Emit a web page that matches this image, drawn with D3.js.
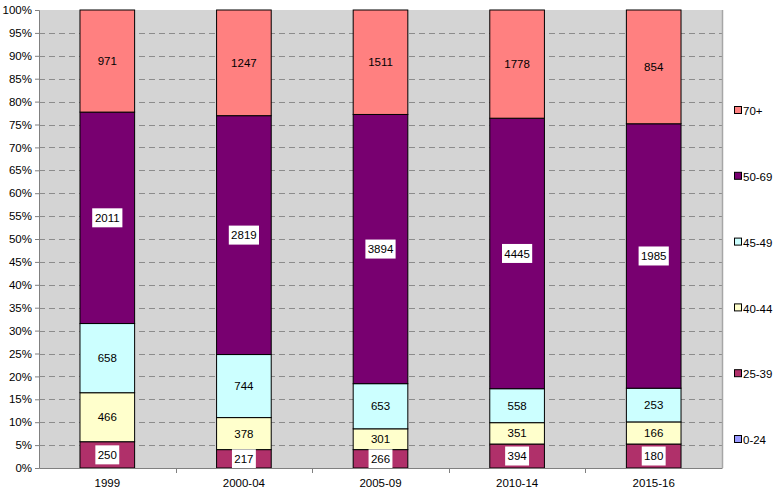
<!DOCTYPE html>
<html><head><meta charset="utf-8">
<script src="https://cdn.jsdelivr.net/npm/d3@7"></script>
<style>body{margin:0;background:#fff;}svg{display:block;font-family:"Liberation Sans",Arial,sans-serif;}</style>
</head><body><svg id="c" width="778" height="496"></svg>
<script>
const categories = ["1999","2000-04","2005-09","2010-14","2015-16"];
const seriesNames = ["0-24","25-39","40-44","45-49","50-69","70+"];
const s0_24  = [0,0,0,0,0];
const s25_39 = [250,217,266,394,180];
const s40_44 = [466,378,301,351,166];
const s45_49 = [658,744,653,558,253];
const s50_69 = [2011,2819,3894,4445,1985];
const s70p   = [971,1247,1511,1778,854];
const yTicks = [0,5,10,15,20,25,30,35,40,45,50,55,60,65,70,75,80,85,90,95,100];
const colors = ["#9999FF","#B0306A","#FFFFCC","#CCFFFF","#780070","#FF8080"];
const boxed  = [true,true,false,false,true,false];

const series = [s0_24,s25_39,s40_44,s45_49,s50_69,s70p];
const rows = categories.map((c,i)=>{const r={cat:c}; seriesNames.forEach((n,j)=>r[n]=series[j][i]); return r;});
const stacked = d3.stack().keys(seriesNames).offset(d3.stackOffsetExpand)(rows);

const svg = d3.select("#c");
const L=39,R=722,T=10,B=468;
const FS="11.5px";
const x = d3.scaleBand().domain(categories).range([L,R]).paddingInner(0.6).paddingOuter(0.3);
const xb = d3.scaleBand().domain(categories).range([L,R]);
const y = d3.scaleLinear().domain([0,100]).range([B,T]);

svg.append("rect").attr("x",L).attr("y",T).attr("width",R-L).attr("height",B-T).attr("fill","#D4D4D4");
// grid
svg.append("g").selectAll("line").data(yTicks.filter(t=>t>0&&t<100)).join("line")
  .attr("x1",L).attr("x2",R).attr("y1",d=>Math.round(y(d))+0.5).attr("y2",d=>Math.round(y(d))+0.5)
  .attr("stroke","#8C8C8C").attr("stroke-dasharray","6,4");
// plot border
svg.append("line").attr("x1",R+0.5).attr("x2",R+0.5).attr("y1",T).attr("y2",B).attr("stroke","#A6A6A6").attr("stroke-width",1.5);

// bars
const g = svg.append("g");
stacked.forEach((s,j)=>{
  g.selectAll(null).data(s).join("rect")
   .attr("x",d=>x(d.data.cat)).attr("width",x.bandwidth())
   .attr("y",d=>y(d[1]*100)).attr("height",d=>y(d[0]*100)-y(d[1]*100))
   .attr("fill",colors[j]).attr("stroke",d=>(d[1]-d[0])>0?"#000":"none").attr("stroke-width",1);
});
// labels
stacked.forEach((s,j)=>{
  s.forEach(d=>{
    if(d[1]-d[0]<=0) return;
    const cx = x(d.data.cat)+x.bandwidth()/2;
    const cy = (y(d[0]*100)+y(d[1]*100))/2;
    const val = d.data[seriesNames[j]];
    if(boxed[j]){
      const w = String(val).length*6.3+5;
      g.append("rect").attr("x",cx-w/2).attr("y",cy-9.5).attr("width",w).attr("height",19).attr("fill","#fff");
    }
    g.append("text").attr("x",cx).attr("y",cy).attr("dy","0.36em").attr("text-anchor","middle")
     .attr("font-size",FS).attr("fill","#000").text(val);
  });
});

// axes
const ya = svg.append("g").attr("transform",`translate(${L},0)`)
  .call(d3.axisLeft(y).tickValues(yTicks).tickFormat(d=>d+"%").tickSize(4).tickPadding(3));
ya.select(".domain").attr("stroke","#808080");
ya.selectAll(".tick line").attr("stroke","#808080");
ya.selectAll("text").attr("font-size",FS).attr("font-family","Liberation Sans, Arial, sans-serif").attr("fill","#000");

const xa = svg.append("g").attr("transform",`translate(0,${B})`)
  .call(d3.axisBottom(xb).tickSize(0).tickPadding(11));
xa.select(".domain").attr("stroke","#808080");
xa.selectAll("text").attr("font-size",FS).attr("font-family","Liberation Sans, Arial, sans-serif").attr("fill","#000");
svg.append("g").selectAll("line").data(categories.slice(1)).join("line")
  .attr("x1",d=>Math.round(xb(d))+0.5).attr("x2",d=>Math.round(xb(d))+0.5).attr("y1",B).attr("y2",B+5).attr("stroke","#808080");

// legend
const lg = svg.append("g");
const order = seriesNames.slice().reverse();
order.forEach((n,i)=>{
  const ly = 111 + i*65.8;
  const j = seriesNames.indexOf(n);
  lg.append("rect").attr("x",734.5).attr("y",ly-4.5).attr("width",7).attr("height",7).attr("fill",colors[j]).attr("stroke","#000");
  lg.append("text").attr("x",743).attr("y",ly).attr("dy","0.36em").attr("font-size",FS).text(n);
});
</script></body></html>
